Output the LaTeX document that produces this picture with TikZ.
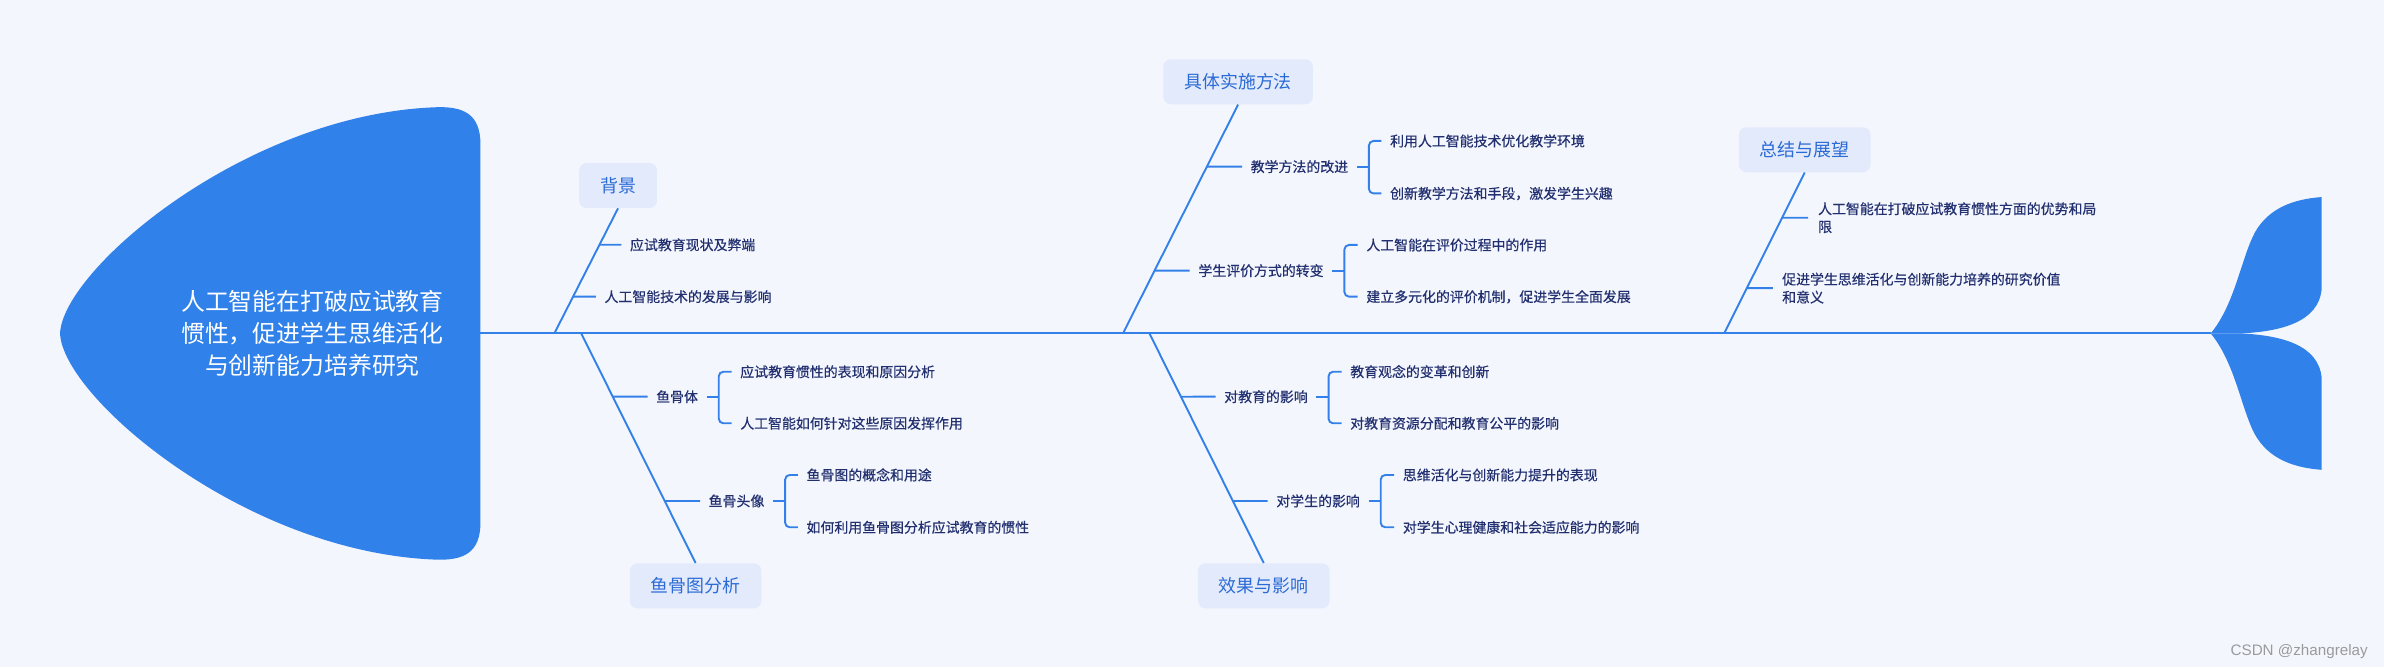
\documentclass[tikz,border=0pt]{standalone}
\usepackage{fontspec}
\setmainfont{Liberation Sans}
\newfontfamily\cjk{Noto Sans CJK SC}
\newfontfamily\cjkleaf[FakeBold=0.5]{Noto Sans CJK SC}
\usetikzlibrary{calc}
\definecolor{bgc}{HTML}{F4F6FE}
\definecolor{fishblue}{HTML}{3181EA}
\definecolor{linec}{HTML}{3381E8}
\definecolor{boxfill}{HTML}{E2EAFC}
\definecolor{boxtext}{HTML}{2B6BD6}
\definecolor{subtext}{HTML}{223070}
\definecolor{wmgray}{HTML}{9A9A9A}
\newcommand\fbbracket[3]{%
  \draw[bone] ([xshift=5.5pt]#1.east) -- ([xshift=13.5pt]#1.east);
  \draw[bone, rounded corners=3pt] ([xshift=-5.5pt]#2.west) -| ([xshift=13.5pt]#1.east) |- ([xshift=-5.5pt]#3.west);
}
\newcommand\fbtick[3]{%
  \draw[bone] (intersection of #1--#2 and #3.west--#3.east) -- ([xshift=-5.5pt]#3.west);
}
\begin{document}
\begin{tikzpicture}[x=1pt,y=-1pt,
  spine/.style={draw=linec, line width=1.4pt},
  bone/.style={draw=linec, line width=1.25pt},
  catbox/.style={fill=boxfill, rounded corners=5pt, text=boxtext,
    font=\cjk\fontsize{11.8}{14}\selectfont, minimum height=29.6pt,
    inner xsep=13.8pt, inner ysep=0pt, text height=9.8pt, text depth=0.8pt},
  leaf/.style={text=subtext, font=\cjkleaf\fontsize{9.15}{11.8}\selectfont,
    inner sep=0pt, anchor=west, text height=7.6pt, text depth=0.6pt},
  leaftwo/.style={text=subtext, font=\cjkleaf\fontsize{9.15}{11.8}\selectfont,
    inner sep=0pt, anchor=west, align=left}
]
\useasboundingbox (0,0) rectangle (1568,439);
\fill[bgc] (0,0) rectangle (1568,439);

% head
\fill[fishblue] (39.5,219.3) .. controls (41,178) and (160,76) .. (285,70.6)
  .. controls (305,69.5) and (316,75) .. (316,95) -- (316,343.6)
  .. controls (316,363.6) and (305,369.1) .. (285,368)
  .. controls (160,362.6) and (41,260.6) .. (39.5,219.3) -- cycle;
\node[text=white, font=\cjk\fontsize{15.7}{21.3}\selectfont, align=center, inner sep=0pt] (title) at (205.5,219.3)
  {人工智能在打破应试教育\\惯性，促进学生思维活化\\与创新能力培养研究};

% tail
\fill[fishblue] (1454,219.3) .. controls (1470,200) and (1474,170) .. (1483,153)
  .. controls (1492,137) and (1508,131) .. (1527,129.6) -- (1527,190)
  .. controls (1525,212) and (1500,218) .. (1474,219.3) -- cycle;
\fill[fishblue] (1454,219.3) .. controls (1470,238.6) and (1474,268.6) .. (1483,285.6)
  .. controls (1492,301.6) and (1508,307.6) .. (1527,309) -- (1527,248.6)
  .. controls (1525,226.6) and (1500,220.6) .. (1474,219.3) -- cycle;

% spine
\coordinate (headR) at (316,219.3);
\coordinate (tailL) at (1454,219.3);
\draw[spine] (headR) -- (tailL);

\coordinate (s1) at (364.6,219.3);
\coordinate (s2) at (382.3,219.3);
\coordinate (s3) at (738.6,219.3);
\coordinate (s4) at (756,219.3);
\coordinate (s5) at (1134,219.3);

% category boxes
\node[catbox] (bg) at (406.5,122) {背景};
\node[catbox] (fa) at (457.5,385.3) {鱼骨图分析};
\node[catbox] (ff) at (814.3,53.8) {具体实施方法};
\node[catbox] (xg) at (831.2,385.3) {效果与影响};
\node[catbox] (zj) at (1187,98.5) {总结与展望};

\draw[bone] (s1) -- (bg.south);
\draw[bone] (s2) -- (fa.north);
\draw[bone] (s3) -- (ff.south);
\draw[bone] (s4) -- (xg.north);
\draw[bone] (s5) -- (zj.south);

% bone 1
\node[leaf] (bg1) at (414.2,161) {应试教育现状及弊端};
\node[leaf] (bg2) at (397.4,195.1) {人工智能技术的发展与影响};
\fbtick{s1}{bg.south}{bg1}
\fbtick{s1}{bg.south}{bg2}

% bone 2
\node[leaf] (fa1) at (431.4,260.9) {鱼骨体};
\node[leaf] (fa11) at (486.7,244.5) {应试教育惯性的表现和原因分析};
\node[leaf] (fa12) at (486.7,278.4) {人工智能如何针对这些原因发挥作用};
\node[leaf] (fa2) at (465.9,329.5) {鱼骨头像};
\node[leaf] (fa21) at (530.3,312.4) {鱼骨图的概念和用途};
\node[leaf] (fa22) at (530.3,346.8) {如何利用鱼骨图分析应试教育的惯性};
\fbtick{s2}{fa.north}{fa1}
\fbtick{s2}{fa.north}{fa2}
\fbbracket{fa1}{fa11}{fa12}
\fbbracket{fa2}{fa21}{fa22}

% bone 3
\node[leaf] (ff1) at (822.4,109.6) {教学方法的改进};
\node[leaf] (ff11) at (914.1,92.7) {利用人工智能技术优化教学环境};
\node[leaf] (ff12) at (914.1,127.2) {创新教学方法和手段，激发学生兴趣};
\node[leaf] (ff2) at (788,178) {学生评价方式的转变};
\node[leaf] (ff21) at (898.5,161.1) {人工智能在评价过程中的作用};
\node[leaf] (ff22) at (898.5,195.1) {建立多元化的评价机制，促进学生全面发展};
\fbtick{s3}{ff.south}{ff1}
\fbtick{s3}{ff.south}{ff2}
\fbbracket{ff1}{ff11}{ff12}
\fbbracket{ff2}{ff21}{ff22}

% bone 4
\node[leaf] (xg1) at (805,260.9) {对教育的影响};
\node[leaf] (xg11) at (887.9,244.5) {教育观念的变革和创新};
\node[leaf] (xg12) at (887.9,278.4) {对教育资源分配和教育公平的影响};
\node[leaf] (xg2) at (839.3,329.5) {对学生的影响};
\node[leaf] (xg21) at (922.5,312.4) {思维活化与创新能力提升的表现};
\node[leaf] (xg22) at (922.5,346.8) {对学生心理健康和社会适应能力的影响};
\fbtick{s4}{xg.north}{xg1}
\fbtick{s4}{xg.north}{xg2}
\fbbracket{xg1}{xg11}{xg12}
\fbbracket{xg2}{xg21}{xg22}

% bone 5
\node[leaftwo] (zj1) at (1195.6,143.2) {人工智能在打破应试教育惯性方面的优势和局\\限};
\node[leaftwo] (zj2) at (1172,189.5) {促进学生思维活化与创新能力培养的研究价值\\和意义};
\draw[bone] (intersection of s5--zj.south and zj1.west--zj1.east) -- ([xshift=-6.3pt]zj1.west);
\draw[bone] (intersection of s5--zj.south and zj2.west--zj2.east) -- ([xshift=-6pt]zj2.west);

% watermark
\node[font=\fontsize{10}{12}\selectfont, text=wmgray, anchor=base east, inner sep=0pt] (wm) at (1557.5,430.8) {CSDN @zhangrelay};
\end{tikzpicture}
\end{document}
